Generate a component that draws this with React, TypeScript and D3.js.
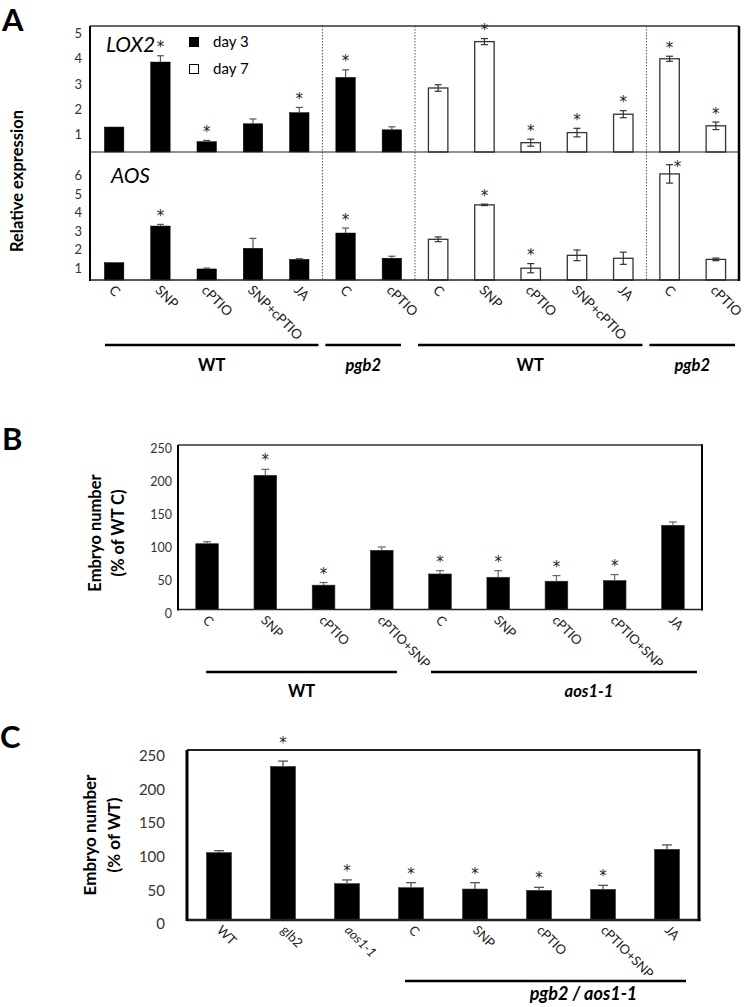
import React, { useEffect } from "react";
import * as d3 from "d3";

const FONT = "Lato, 'Open Sans', sans-serif";
const STAR_FONT = "'DejaVu Sans', sans-serif";

// ---------- Panel A data ----------
const A_CATEGORIES = ["C", "SNP", "cPTIO", "SNP+cPTIO", "JA", "C", "cPTIO", "C", "SNP", "cPTIO", "SNP+cPTIO", "JA", "C", "cPTIO"];
const A_DAYS = [3, 3, 3, 3, 3, 3, 3, 7, 7, 7, 7, 7, 7, 7];
const LOX2_MEAN = [1.29, 3.87, 0.71, 1.42, 1.86, 3.26, 1.18, 2.84, 4.68, 0.67, 1.07, 1.8, 4.0, 1.34];
const LOX2_ERR = [0, 0.25, 0.05, 0.19, 0.21, 0.3, 0.12, 0.13, 0.12, 0.14, 0.17, 0.14, 0.1, 0.15];
const LOX2_SIG = [0, 1, 1, 0, 1, 1, 0, 0, 1, 1, 1, 1, 1, 1];
const AOS_MEAN = [1.29, 3.28, 0.95, 2.07, 1.47, 2.9, 1.53, 2.56, 4.43, 0.99, 1.69, 1.53, 6.11, 1.47];
const AOS_ERR = [0, 0.09, 0.05, 0.54, 0.04, 0.27, 0.11, 0.13, 0.04, 0.25, 0.29, 0.33, 0.5, 0.07];
const AOS_SIG = [0, 1, 0, 0, 0, 1, 0, 0, 1, 1, 0, 0, 1, 0];
const LOX2_TICKS = [1, 2, 3, 4, 5];
const AOS_TICKS = [1, 2, 3, 4, 5, 6];
const A_GROUPS = [
  { label: "WT", italic: false, from: 0, to: 4 },
  { label: "pgb2", italic: true, from: 5, to: 6 },
  { label: "WT", italic: false, from: 7, to: 11 },
  { label: "pgb2", italic: true, from: 12, to: 13 },
];
const A_DIVIDERS = [5, 7, 12];

// ---------- Panel B data ----------
const B_CATEGORIES = ["C", "SNP", "cPTIO", "cPTIO+SNP", "C", "SNP", "cPTIO", "cPTIO+SNP", "JA"];
const B_MEAN = [100, 204, 37, 90, 54, 49, 43, 44, 128];
const B_ERR = [3, 9, 4, 5, 5, 10, 8.5, 9, 5];
const B_SIG = [0, 1, 1, 0, 1, 1, 1, 1, 0];
const B_TICKS = [0, 50, 100, 150, 200, 250];
const B_GROUPS = [
  { label: "WT", italic: false, from: 0, to: 3 },
  { label: "aos1-1", italic: true, from: 4, to: 8 },
];

// ---------- Panel C data ----------
const C_CATEGORIES = ["WT", "glb2", "aos1-1", "C", "SNP", "cPTIO", "cPTIO+SNP", "JA"];
const C_ITALIC = [false, false, true, false, false, false, false, false];
const C_MEAN = [100, 228, 54, 48, 46, 44, 45.5, 105];
const C_ERR = [3, 8, 5.5, 7.5, 9.5, 4.5, 6, 6.5];
const C_SIG = [0, 1, 1, 1, 1, 1, 1, 0];
const C_TICKS = [0, 50, 100, 150, 200, 250];
const C_GROUPS = [{ label: "pgb2 / aos1-1", italic: true, from: 3, to: 7 }];

function Star({ x, y }: { x: number; y: number }) {
  return (
    <text x={x} y={y} textAnchor="middle" fontSize={15} fontFamily={STAR_FONT} fill="#222">
      *
    </text>
  );
}

function PanelA() {
  const L = 90, R = 739, T = 26, M = 152, B = 280;
  const x = d3.scaleBand<number>().domain(d3.range(A_CATEGORIES.length)).range([91, R]).padding(0);
  const bw = x.step() * 0.42;
  const cx = (i: number) => (x(i) as number) + x.bandwidth() / 2;
  const yL = d3.scaleLinear().domain([0.3, 5.3]).range([M, T]);
  const yA = d3.scaleLinear().domain([0.35, 7.3]).range([B, M]);

  const bars = (mean: number[], err: number[], sig: number[], y: d3.ScaleLinear<number, number>, base: number, key: string) =>
    mean.map((v, i) => {
      const white = A_DAYS[i] === 7;
      const top = y(v);
      const eTop = y(v + err[i]);
      const eBot = y(v - err[i]);
      const c = cx(i);
      const override = key === "aos" && i === 12;
      return (
        <g key={key + i}>
          <rect x={c - bw / 2} y={top} width={bw} height={base - top} fill={white ? "#fff" : "#000"} stroke={white ? "#333" : "#000"} strokeWidth={white ? 1.3 : 0.5} />
          {err[i] > 0 && (
            <g stroke={white ? "#333" : "#555"} strokeWidth={1.2}>
              <line x1={c} x2={c} y1={eTop} y2={white ? eBot : top} />
              <line x1={c - 3.5} x2={c + 3.5} y1={eTop} y2={eTop} />
              {white && <line x1={c - 3.5} x2={c + 3.5} y1={eBot} y2={eBot} />}
            </g>
          )}
          {sig[i] === 1 && <Star x={override ? c + 8 : c} y={override ? eTop + 7 : eTop - 3.5} />}
        </g>
      );
    });

  return (
    <g>
      <text x={2} y={31} fontSize={31} fontWeight="bold" fontFamily={FONT}>A</text>
      <text transform={`translate(23,181) rotate(-90)`} textAnchor="middle" fontSize={16.5} fontWeight="bold" fontFamily={FONT}>
        Relative expression
      </text>
      {LOX2_TICKS.map((t) => (
        <text key={"lt" + t} x={82} y={yL(t)} dy="0.35em" textAnchor="end" fontSize={13} fill="#333" fontFamily={FONT}>{t}</text>
      ))}
      {AOS_TICKS.map((t) => (
        <text key={"at" + t} x={82} y={yA(t)} dy="0.35em" textAnchor="end" fontSize={13} fill="#333" fontFamily={FONT}>{t}</text>
      ))}
      {bars(LOX2_MEAN, LOX2_ERR, LOX2_SIG, yL, M, "lox")}
      {bars(AOS_MEAN, AOS_ERR, AOS_SIG, yA, B, "aos")}
      {A_DIVIDERS.map((d) => (
        <line key={"d" + d} x1={x(d) as number} x2={x(d) as number} y1={T} y2={B} stroke="#555" strokeWidth={1} strokeDasharray="1.5,1.5" />
      ))}
      <line x1={L} x2={R} y1={T} y2={T} stroke="#333" strokeWidth={1.5} />
      <line x1={L} x2={R} y1={M} y2={M} stroke="#222" strokeWidth={1.2} />
      <line x1={L} x2={R + 1} y1={B} y2={B} stroke="#222" strokeWidth={1.5} />
      <line x1={L} x2={L} y1={T} y2={B + 1} stroke="#000" strokeWidth={2} />
      <line x1={R} x2={R} y1={T} y2={B + 1} stroke="#000" strokeWidth={2.5} />
      <text x={106} y={52} fontSize={21} fontStyle="italic" fontFamily={FONT}>LOX2</text>
      <text x={111} y={183} fontSize={21} fontStyle="italic" fontFamily={FONT}>AOS</text>
      <rect x={189} y={37} width={10} height={10} fill="#000" />
      <rect x={189.5} y={64.5} width={9} height={9} fill="#fff" stroke="#000" strokeWidth={1} />
      <text x={213} y={47} fontSize={15} fontFamily={FONT}>day 3</text>
      <text x={213} y={74} fontSize={15} fontFamily={FONT}>day 7</text>
      {A_CATEGORIES.map((c, i) => (
        <text key={"al" + i} transform={`translate(${cx(i) - 6},${291}) rotate(45)`} fontSize={13.5} fill="#222" fontFamily={FONT}>{c}</text>
      ))}
      {A_GROUPS.map((g, i) => {
        const x1 = (x(g.from) as number) + (i === 0 ? 14 : 3);
        const x2 = (x(g.to) as number) + x.step() - (i === 1 ? 14 : 4);
        return (
          <g key={"ag" + i}>
            <line x1={x1} x2={x2} y1={345} y2={345} stroke="#000" strokeWidth={2.5} />
            <text x={(x1 + x2) / 2} y={371} textAnchor="middle" fontSize={16.5} fontWeight="bold" fontStyle={g.italic ? "italic" : "normal"} fontFamily={FONT}>{g.label}</text>
          </g>
        );
      })}
    </g>
  );
}

function PanelB() {
  const L = 178, R = 702, T = 445, B = 609.5;
  const x = d3.scaleBand<number>().domain(d3.range(B_CATEGORIES.length)).range([L, R]).padding(0);
  const bw = x.step() * 0.39;
  const cx = (i: number) => (x(i) as number) + x.bandwidth() / 2;
  const y = d3.scaleLinear().domain([0, 250]).range([B, T]);
  const labelDx = [0, 25];
  return (
    <g>
      <text x={2} y={450} fontSize={31} fontWeight="bold" fontFamily={FONT}>B</text>
      <text transform={`translate(101,533) rotate(-90)`} textAnchor="middle" fontSize={16.5} fontWeight="bold" fontFamily={FONT}>Embryo number</text>
      <text transform={`translate(124,533) rotate(-90)`} textAnchor="middle" fontSize={16.5} fontWeight="bold" fontFamily={FONT}>(% of WT C)</text>
      {B_TICKS.map((t) => (
        <text key={"bt" + t} x={172} y={y(t) + 4} dy="0.35em" textAnchor="end" fontSize={12.5} fill="#333" fontFamily={FONT}>{t}</text>
      ))}
      {B_MEAN.map((v, i) => {
        const c = cx(i);
        const top = y(v);
        const eTop = y(v + B_ERR[i]);
        return (
          <g key={"bb" + i}>
            <rect x={c - bw / 2} y={top} width={bw} height={B - top} fill="#000" stroke="#333" strokeWidth={0.6} />
            <g stroke="#666" strokeWidth={1.2}>
              <line x1={c} x2={c} y1={eTop} y2={top} />
              <line x1={c - 4} x2={c + 4} y1={eTop} y2={eTop} />
            </g>
            {B_SIG[i] === 1 && <Star x={c} y={eTop - 4} />}
          </g>
        );
      })}
      <line x1={L} x2={R} y1={T} y2={T} stroke="#333" strokeWidth={1.5} />
      <line x1={L} x2={R + 1} y1={B} y2={B} stroke="#222" strokeWidth={1.5} />
      <line x1={L} x2={L} y1={T} y2={B + 1} stroke="#000" strokeWidth={2} />
      <line x1={R} x2={R} y1={T - 0.7} y2={B + 1} stroke="#000" strokeWidth={2} />
      {B_CATEGORIES.map((c, i) => (
        <text key={"bl" + i} transform={`translate(${cx(i) - 5},${621}) rotate(45)`} fontSize={13} fill="#222" fontFamily={FONT}>{c}</text>
      ))}
      {B_GROUPS.map((g, i) => {
        const x1 = cx(g.from) - (i === 0 ? 1 : 9);
        const x2 = (x(g.to) as number) + x.step() - (i === 0 ? 14 : 5);
        return (
          <g key={"bg" + i}>
            <line x1={x1} x2={x2} y1={672} y2={672} stroke="#000" strokeWidth={2.5} />
            <text x={(x1 + x2) / 2 + labelDx[i]} y={697} textAnchor="middle" fontSize={16.5} fontWeight="bold" fontStyle={g.italic ? "italic" : "normal"} fontFamily={FONT}>{g.label}</text>
          </g>
        );
      })}
    </g>
  );
}

function PanelC() {
  const L = 187, R = 699, T = 750, B = 920;
  const x = d3.scaleBand<number>().domain(d3.range(C_CATEGORIES.length)).range([L, R]).padding(0);
  const bw = x.step() * 0.39;
  const cx = (i: number) => (x(i) as number) + x.bandwidth() / 2;
  const y = d3.scaleLinear().domain([0, 252.5]).range([B, T]);
  return (
    <g>
      <text x={0} y={748} fontSize={31} fontWeight="bold" fontFamily={FONT}>C</text>
      <text transform={`translate(96,835) rotate(-90)`} textAnchor="middle" fontSize={17} fontWeight="bold" fontFamily={FONT}>Embryo number</text>
      <text transform={`translate(120,835) rotate(-90)`} textAnchor="middle" fontSize={17} fontWeight="bold" fontFamily={FONT}>(% of WT)</text>
      {C_TICKS.map((t) => (
        <text key={"ct" + t} x={165} y={y(t) + 4} dy="0.35em" textAnchor="end" fontSize={15} fill="#333" fontFamily={FONT}>{t}</text>
      ))}
      {C_MEAN.map((v, i) => {
        const c = cx(i);
        const top = y(v);
        const eTop = y(v + C_ERR[i]);
        return (
          <g key={"cb" + i}>
            <rect x={c - bw / 2} y={top} width={bw} height={B - top} fill="#000" stroke="#333" strokeWidth={0.6} />
            <g stroke="#555" strokeWidth={1.3}>
              <line x1={c} x2={c} y1={eTop} y2={top} />
              <line x1={c - 5} x2={c + 5} y1={eTop} y2={eTop} />
            </g>
            {C_SIG[i] === 1 && <Star x={c} y={eTop - (i === 1 ? 13 : 4)} />}
          </g>
        );
      })}
      <line x1={L} x2={R} y1={T} y2={T} stroke="#222" strokeWidth={2} />
      <line x1={L} x2={R + 1.5} y1={B} y2={B} stroke="#222" strokeWidth={2.5} />
      <line x1={L} x2={L} y1={T} y2={B + 1} stroke="#000" strokeWidth={3} />
      <line x1={R} x2={R} y1={T - 1} y2={B + 1} stroke="#000" strokeWidth={3} />
      {C_CATEGORIES.map((c, i) => (
        <text key={"cl" + i} transform={`translate(${cx(i) - 3},${931}) rotate(45)`} fontSize={13} fill="#222" fontStyle={C_ITALIC[i] ? "italic" : "normal"} fontFamily={FONT}>{c}</text>
      ))}
      {C_GROUPS.map((g, i) => {
        const x1 = cx(g.from) - 6;
        const x2 = cx(g.to) + 19;
        return (
          <g key={"cg" + i}>
            <line x1={x1} x2={x2} y1={981} y2={981} stroke="#000" strokeWidth={2.5} />
            <text x={(x1 + x2) / 2 + 38} y={1000} textAnchor="middle" fontSize={18} fontWeight="bold" fontStyle="italic" fontFamily={FONT} style={{ whiteSpace: "pre" }}>{g.label}</text>
          </g>
        );
      })}
    </g>
  );
}

export default function App() {
  useEffect(() => {
    document.body.style.margin = "0";
  }, []);
  return (
    <svg width={744} height={1007} viewBox="0 0 744 1007" style={{ display: "block", position: "absolute", left: 0, top: 0, background: "#fff" }}>
      <rect x={0} y={0} width={744} height={1007} fill="#fff" />
      <PanelA />
      <PanelB />
      <PanelC />
    </svg>
  );
}
